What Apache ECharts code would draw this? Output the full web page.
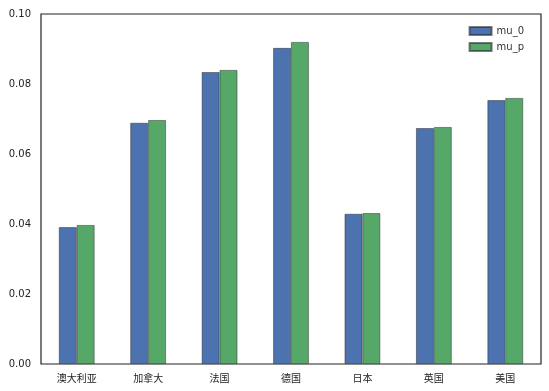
<!DOCTYPE html>
<html><head><meta charset="utf-8">
<script src="https://cdn.jsdelivr.net/npm/echarts@6/dist/echarts.min.js"></script>
<style>html,body{margin:0;padding:0;background:#fff}#c{width:549px;height:391px}</style>
</head><body><div id="c"></div>
<script>
const categories = ['澳大利亚','加拿大','法国','德国','日本','英国','美国'];
const mu0 = [0.0391, 0.0689, 0.0834, 0.0903, 0.0429, 0.0674, 0.0754];
const mup = [0.0397, 0.0697, 0.0840, 0.0920, 0.0431, 0.0677, 0.0760];
const yTicks = [0, 0.02, 0.04, 0.06, 0.08, 0.10];
const font = '"DejaVu Sans", "Noto Sans CJK SC", sans-serif';
const chart = echarts.init(document.getElementById('c'));
chart.setOption({
  animation: false,
  textStyle: {fontFamily: font},
  grid: {left: 41, top: 14, right: 8, bottom: 27, show: true, borderColor: '#222', borderWidth: 1.2, backgroundColor: '#fff'},
  legend: {
    right: 20, top: 21, orient: 'vertical', itemWidth: 22, itemHeight: 8, itemGap: 6,
    icon: 'rect',
    textStyle: {fontSize: 10, color: '#333', fontFamily: font},
    data: ['mu_0', 'mu_p']
  },
  xAxis: {
    type: 'category', data: categories,
    axisLine: {show: false}, axisTick: {show: false},
    axisLabel: {fontSize: 10, color: '#222', margin: 9, fontFamily: '"Noto Sans CJK SC", sans-serif'},
    splitLine: {show: false}
  },
  yAxis: {
    type: 'value', min: 0, max: 0.10, interval: 0.02,
    axisLine: {show: false}, axisTick: {show: false}, splitLine: {show: false},
    axisLabel: {fontSize: 10, color: '#222', margin: 10, formatter: v => v.toFixed(2)}
  },
  series: [
    {name: 'mu_0', type: 'bar', data: mu0, barWidth: '25%', barGap: '0%',
     itemStyle: {color: '#4C72B0', borderColor: 'rgba(40,40,40,0.6)', borderWidth: 0.8}},
    {name: 'mu_p', type: 'bar', data: mup, barWidth: '25%', barGap: '0%',
     itemStyle: {color: '#55A868', borderColor: 'rgba(40,40,40,0.6)', borderWidth: 0.8}}
  ]
});
</script></body></html>
